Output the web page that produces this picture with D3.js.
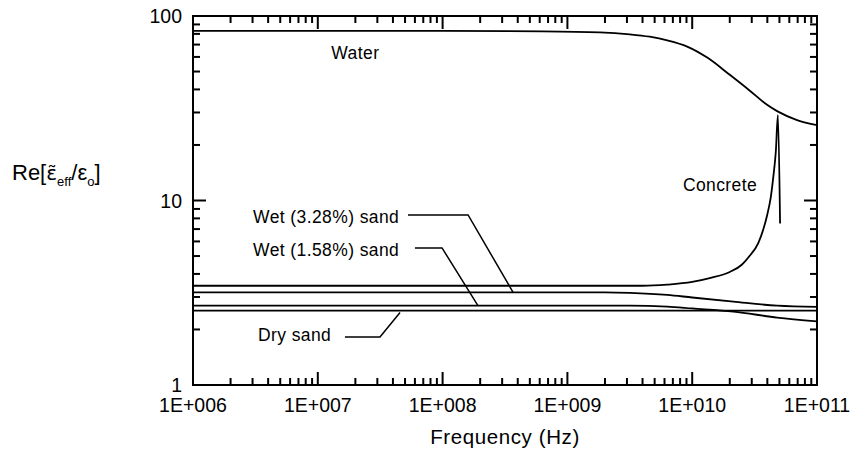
<!DOCTYPE html>
<html><head><meta charset="utf-8">
<script src="https://cdn.jsdelivr.net/npm/d3@7"></script>
<style>
body{margin:0;background:#fff;}
text{font-family:"Liberation Sans",Arial,sans-serif;fill:#000;}
</style></head>
<body><svg id="c" width="862" height="458"></svg>
<script>
// ---- data ----
const xTickValues = [1e6, 1e7, 1e8, 1e9, 1e10, 1e11];
const xTickLabels = ["1E+006", "1E+007", "1E+008", "1E+009", "1E+010", "1E+011"];
const yTickValues = [1, 10, 100];
const yTickLabels = ["1", "10", "100"];

const waterFreq  = [1e6, 1e8, 6.31e8, 1.82e9, 3.16e9, 4.57e9, 6.31e9, 9.12e9, 1.32e10, 2.0e10, 2.88e10, 3.98e10, 4.79e10, 6.92e10, 1e11];
const waterVal   = [83, 83, 82.6, 81.6, 79.6, 77.2, 73.8, 68.3, 59.5, 48, 39.5, 33, 30.5, 27.3, 25.6];

const concFreq   = [1e6, 3.98e9, 6.31e9, 1e10, 1.38e10, 2e10, 2.51e10, 2.88e10, 3.39e10, 3.72e10, 3.98e10, 4.27e10, 4.47e10, 4.68e10, 4.86e10, 5.06e10];
const concVal    = [3.45, 3.45, 3.5, 3.62, 3.8, 4.1, 4.5, 5.0, 5.9, 7.0, 8.3, 10.5, 13.5, 18.5, 29, 7.5];

const wet328Freq = [1e6, 2e9, 3.16e9, 6.31e9, 1e10, 2.14e10, 4.79e10, 1e11];
const wet328Val  = [3.18, 3.18, 3.16, 3.08, 2.98, 2.83, 2.69, 2.65];

const wet158Freq = [1e6, 3.16e9, 6.31e9, 1e10, 2.14e10, 4.79e10, 1e11];
const wet158Val  = [2.69, 2.69, 2.66, 2.6, 2.5, 2.32, 2.21];

const dryFreq    = [1e6, 1e11];
const dryVal     = [2.53, 2.53];

// annotation labels (data coordinates) and leader lines
const labelText  = ["Water", "Concrete", "Wet (3.28%) sand", "Wet (1.58%) sand", "Dry sand"];
const labelFreq  = [2e7, 1.67e10, 3.03e6, 3.03e6, 3.32e6];
const labelVal   = [63, 12.1, 8.14, 5.39, 1.87];
const labelAnchor= ["middle", "middle", "start", "start", "start"];
const leaderFreq = [[5.28e7, 1.6e8, 3.67e8], [6.0e7, 9.9e7, 1.92e8], [1.65e7, 3.15e7, 4.56e7]];
const leaderVal  = [[8.35, 8.35, 3.18], [5.53, 5.53, 2.69], [1.82, 1.82, 2.47]];

// ---- chart ----
const svg = d3.select("#c");
const L = 193, R = 817, T = 16, B = 385;
const x = d3.scaleLog().domain([1e6, 1e11]).range([L, R]);
const y = d3.scaleLog().domain([1, 100]).range([B, T]);

const minorX = [];
for (let d = 6; d < 11; d++) for (let m = 2; m <= 9; m++) minorX.push(m * Math.pow(10, d));
const minorY = [];
for (let d = 0; d < 2; d++) for (let m = 2; m <= 9; m++) minorY.push(m * Math.pow(10, d));

const tickG = svg.append("g").attr("stroke", "#000").attr("stroke-width", 2);
function xTicks(vals, len) {
  vals.forEach(v => {
    tickG.append("line").attr("x1", x(v)).attr("x2", x(v)).attr("y1", B).attr("y2", B - len);
    tickG.append("line").attr("x1", x(v)).attr("x2", x(v)).attr("y1", T).attr("y2", T + len);
  });
}
function yTicks(vals, len) {
  vals.forEach(v => {
    tickG.append("line").attr("y1", y(v)).attr("y2", y(v)).attr("x1", L).attr("x2", L + len);
    tickG.append("line").attr("y1", y(v)).attr("y2", y(v)).attr("x1", R).attr("x2", R - len);
  });
}
xTicks(xTickValues, 13); xTicks(minorX, 7);
yTicks(yTickValues, 13); yTicks(minorY, 7);

// tick labels
xTickValues.forEach((v, i) => {
  svg.append("text").attr("x", x(v)).attr("y", B + 27).attr("text-anchor", "middle")
    .attr("font-size", 19.5).text(xTickLabels[i]);
});
yTickValues.forEach((v, i) => {
  svg.append("text").attr("x", L - 11).attr("y", y(v)).attr("dy", "0.36em").attr("text-anchor", "end")
    .attr("font-size", 19.5).text(yTickLabels[i]);
});

// frame
svg.append("rect").attr("x", L).attr("y", T).attr("width", R - L).attr("height", B - T)
  .attr("fill", "none").attr("stroke", "#000").attr("stroke-width", 2);

// curves
const line = d3.line().x(d => x(d[0])).y(d => y(d[1])).curve(d3.curveMonotoneX);
const series = [
  [waterFreq, waterVal],
  [concFreq, concVal],
  [wet328Freq, wet328Val],
  [wet158Freq, wet158Val],
  [dryFreq, dryVal]
];
series.forEach(([f, v]) => {
  svg.append("path").datum(f.map((ff, i) => [ff, v[i]]))
    .attr("d", line).attr("fill", "none").attr("stroke", "#000").attr("stroke-width", 1.8);
});

// leader lines
const lin = d3.line().x(d => x(d[0])).y(d => y(d[1]));
leaderFreq.forEach((fs, i) => {
  svg.append("path").datum(fs.map((f, j) => [f, leaderVal[i][j]]))
    .attr("d", lin).attr("fill", "none").attr("stroke", "#000").attr("stroke-width", 1.5);
});

// labels
labelText.forEach((t, i) => {
  svg.append("text").attr("x", x(labelFreq[i])).attr("y", y(labelVal[i]))
    .attr("dy", "0.35em").attr("text-anchor", labelAnchor[i])
    .attr("font-size", 17.5).attr("letter-spacing", 0.4).text(t);
});

// axis titles
svg.append("text").attr("x", (L + R) / 2).attr("y", 444).attr("text-anchor", "middle")
  .attr("font-size", 20.5).attr("letter-spacing", 0.6).text("Frequency (Hz)");

const yt = svg.append("text").attr("x", 12).attr("y", 180).attr("font-size", 22);
yt.append("tspan").text("Re[");
yt.append("tspan").attr("font-family", "DejaVu Sans").attr("font-size", 20).text("\u03B5\u0303");
yt.append("tspan").attr("dy", 6).attr("font-size", 13).text("eff");
yt.append("tspan").attr("dy", -6).text("/\u03B5");
yt.append("tspan").attr("dy", 6).attr("font-size", 13).text("o");
yt.append("tspan").attr("dy", -6).text("]");
</script></body></html>
